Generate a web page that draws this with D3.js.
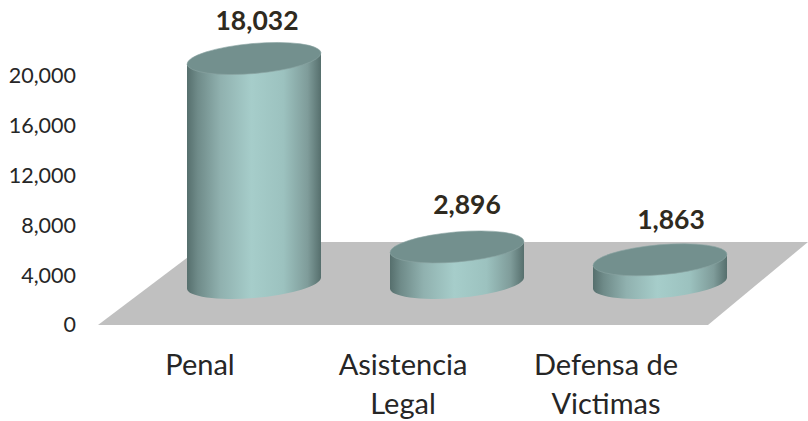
<!DOCTYPE html>
<html>
<head>
<meta charset="utf-8">
<script src="https://cdnjs.cloudflare.com/ajax/libs/d3/7.8.5/d3.min.js"></script>
<style>
html,body{margin:0;padding:0;background:#fff;}
svg{display:block;}
text{font-family:Lato,"Open Sans",sans-serif;}
</style>
</head>
<body>
<div class="canvas"></div>
<script>
const categories = [['Penal'], ['Asistencia','Legal'], ['Defensa de','Victimas']];
const values = [18032, 2896, 1863];
const tickValues = [0, 4000, 8000, 12000, 16000, 20000];

const dims = {width: 808, height: 421};
// depth of the 3d floor: cylinders stand this far above the axis zero
const depth = 42;
// ellipse of the cylinder caps
const cap = {rx: 67.2, ry: 15, rot: -4.94, dx: 67, dy: 5.5};
// hand placed data labels, excel style
const labelNudge = [{x: 3, y: -29}, {x: 10, y: -33}, {x: 11, y: -31}];

const svg = d3.select('.canvas').append('svg')
  .attr('width', dims.width)
  .attr('height', dims.height);

const y = d3.scaleLinear().domain([0, 20000]).range([325, 76]);
const x = d3.scalePoint().domain(d3.range(values.length)).range([254, 660]);

//side gradient
const grad = svg.append('defs').append('linearGradient')
  .attr('id', 'side').attr('x1', '0').attr('x2', '1').attr('y1', '0').attr('y2', '0');
[[0,'#566f6d'],[0.08,'#6f8b89'],[0.25,'#90b1af'],[0.48,'#a6cdca'],[0.72,'#9cc2bf'],[0.9,'#7f9c9a'],[1,'#566f6d']]
  .forEach(s => grad.append('stop').attr('offset', s[0]).attr('stop-color', s[1]));

//floor
svg.append('path')
  .attr('d', `M98,325L208,242L808,242L708,325Z`)
  .attr('fill', '#c0c0c0');

//axis
const axis = svg.append('g')
  .attr('transform', 'translate(76,0)')
  .call(d3.axisLeft(y).tickValues(tickValues).tickSize(0).tickPadding(0).tickFormat(d3.format(',')));
axis.select('.domain').remove();
axis.selectAll('text')
  .attr('font-size', 21.5)
  .attr('fill', '#262626')
  .style('font-family', 'Lato');

//cylinders
const bars = svg.selectAll('g.bar').data(values).enter().append('g').attr('class', 'bar');

const baseY = y(0) - depth;
const topY = d => baseY - (y(0) - y(d));

bars.append('path')
  .attr('fill', 'url(#side)')
  .attr('d', (d, i) => {
    const cx = x(i), t = topY(d);
    return `M${cx - cap.dx},${t + cap.dy}`
      + `L${cx - cap.dx},${baseY + cap.dy}`
      + `A${cap.rx},${cap.ry} ${cap.rot} 0 0 ${cx + cap.dx},${baseY - cap.dy}`
      + `L${cx + cap.dx},${t - cap.dy}Z`;
  });

bars.append('ellipse')
  .attr('rx', cap.rx)
  .attr('ry', cap.ry)
  .attr('fill', '#73908e')
  .attr('stroke', '#8aa5a3')
  .attr('stroke-width', 0.6)
  .attr('transform', (d, i) => `translate(${x(i)},${topY(d)}) rotate(${cap.rot})`);

//value labels
bars.append('text')
  .attr('x', (d, i) => x(i) + labelNudge[i].x)
  .attr('y', (d, i) => topY(d) + labelNudge[i].y)
  .attr('text-anchor', 'middle')
  .attr('font-size', 26.5)
  .attr('font-weight', 700)
  .attr('fill', '#2f2a20')
  .text(d => d3.format(',')(d));

//category labels
const cats = svg.selectAll('text.cat').data(categories).enter().append('text')
  .attr('class', 'cat')
  .attr('text-anchor', 'middle')
  .attr('font-size', 29)
  .attr('fill', '#262626');
cats.selectAll('tspan').data((d, i) => d.map(s => ({s, i}))).enter().append('tspan')
  .attr('x', d => x(d.i) - 54)
  .attr('y', (d, j) => 375 + j * 39)
  .text(d => d.s);
</script>
</body>
</html>
